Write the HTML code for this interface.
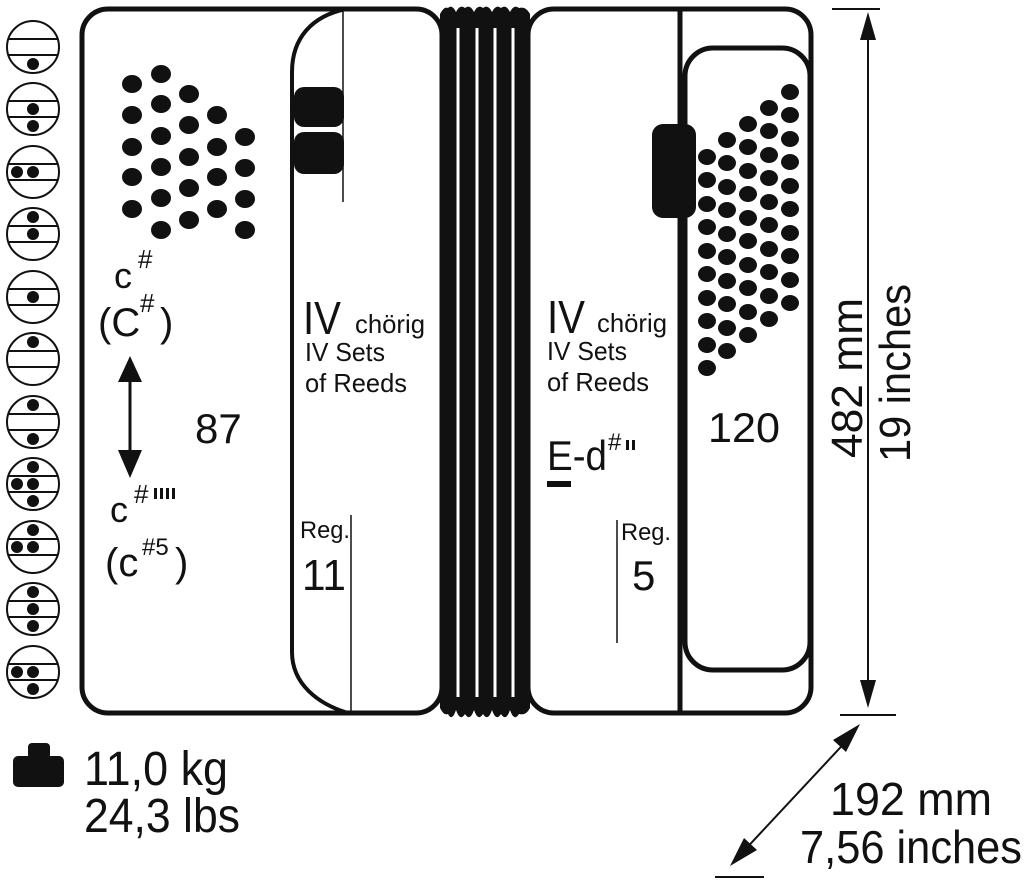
<!DOCTYPE html>
<html><head><meta charset="utf-8"><style>
html,body{margin:0;padding:0;background:#fff}
svg{display:block}
text{font-family:"Liberation Sans Narrow","Liberation Sans",sans-serif;fill:#111}
</style></head><body>
<svg width="1025" height="883" viewBox="0 0 1025 883" xmlns="http://www.w3.org/2000/svg">
<g stroke="#111" stroke-width="2" fill="#fff">
<circle cx="33" cy="47" r="26"/><circle cx="33" cy="109" r="26"/><circle cx="33" cy="172" r="26"/><circle cx="33" cy="234" r="26"/><circle cx="33" cy="297" r="26"/><circle cx="33" cy="359" r="26"/><circle cx="33" cy="422" r="26"/><circle cx="33" cy="484" r="26"/><circle cx="33" cy="547" r="26"/><circle cx="33" cy="609" r="26"/><circle cx="33" cy="672" r="26"/>
</g>
<g stroke="#111" stroke-width="2">
<line x1="8" y1="39" x2="58" y2="39"/><line x1="8" y1="55" x2="58" y2="55"/>
<line x1="8" y1="101" x2="58" y2="101"/><line x1="8" y1="117" x2="58" y2="117"/>
<line x1="8" y1="164" x2="58" y2="164"/><line x1="8" y1="180" x2="58" y2="180"/>
<line x1="8" y1="226" x2="58" y2="226"/><line x1="8" y1="242" x2="58" y2="242"/>
<line x1="8" y1="289" x2="58" y2="289"/><line x1="8" y1="305" x2="58" y2="305"/>
<line x1="8" y1="351" x2="58" y2="351"/><line x1="8" y1="367" x2="58" y2="367"/>
<line x1="8" y1="414" x2="58" y2="414"/><line x1="8" y1="430" x2="58" y2="430"/>
<line x1="8" y1="476" x2="58" y2="476"/><line x1="8" y1="492" x2="58" y2="492"/>
<line x1="8" y1="539" x2="58" y2="539"/><line x1="8" y1="555" x2="58" y2="555"/>
<line x1="8" y1="601" x2="58" y2="601"/><line x1="8" y1="617" x2="58" y2="617"/>
<line x1="8" y1="664" x2="58" y2="664"/><line x1="8" y1="680" x2="58" y2="680"/>
</g>
<g fill="#111">
<circle cx="33" cy="64" r="6"/>
<circle cx="33" cy="109" r="6"/><circle cx="33" cy="126" r="6"/>
<circle cx="17" cy="172" r="6"/><circle cx="33" cy="172" r="6"/>
<circle cx="33" cy="217" r="6"/><circle cx="33" cy="234" r="6"/>
<circle cx="33" cy="297" r="6"/>
<circle cx="33" cy="342" r="6"/>
<circle cx="33" cy="405" r="6"/><circle cx="33" cy="439" r="6"/>
<circle cx="33" cy="467" r="6"/><circle cx="17" cy="484" r="6"/><circle cx="33" cy="484" r="6"/><circle cx="33" cy="501" r="6"/>
<circle cx="33" cy="530" r="6"/><circle cx="17" cy="547" r="6"/><circle cx="33" cy="547" r="6"/>
<circle cx="33" cy="592" r="6"/><circle cx="33" cy="609" r="6"/><circle cx="33" cy="626" r="6"/>
<circle cx="17" cy="672" r="6"/><circle cx="33" cy="672" r="6"/><circle cx="33" cy="689" r="6"/>
</g>

<!-- bellows -->
<path d="M440,14 Q444,6 448,8 Q452,4 456,12 Q460,4 465,8 Q470,4 474,12 Q478,4 483,8 Q488,4 492,12 Q496,4 501,8 Q506,4 510,12 Q514,4 519,8 Q526,6 530,14 L530,708 Q526,716 519,714 Q514,722 510,710 Q506,722 501,714 Q496,722 492,710 Q488,722 483,714 Q478,722 474,710 Q470,722 465,714 Q460,722 456,710 Q452,722 448,714 Q444,716 440,708 Z" fill="#111"/>
<g stroke="#fff" stroke-width="3">
<line x1="458" y1="28" x2="458" y2="697"/><line x1="477" y1="28" x2="477" y2="697"/><line x1="495" y1="28" x2="495" y2="697"/><line x1="513" y1="28" x2="513" y2="697"/>
</g>

<!-- left body -->
<rect x="82" y="9" width="360" height="704" rx="26" fill="#fff" stroke="#111" stroke-width="5"/>
<path d="M346,9 C312,16 292,38 292,72 L292,652 C292,684 318,704 348,713" fill="none" stroke="#111" stroke-width="4"/>
<line x1="343" y1="9" x2="343" y2="202" stroke="#111" stroke-width="1.5"/>
<line x1="351" y1="515" x2="351" y2="713" stroke="#111" stroke-width="1.5"/>
<rect x="294" y="87" width="50" height="40" rx="10" fill="#111"/>
<rect x="294" y="132" width="50" height="42" rx="10" fill="#111"/>

<g fill="#111">
<ellipse cx="132" cy="84" rx="10" ry="9"/><ellipse cx="132" cy="115" rx="10" ry="9"/><ellipse cx="132" cy="147" rx="10" ry="9"/><ellipse cx="132" cy="177" rx="10" ry="9"/><ellipse cx="132" cy="209" rx="10" ry="9"/>
<ellipse cx="161" cy="74" rx="10" ry="9"/><ellipse cx="161" cy="104" rx="10" ry="9"/><ellipse cx="161" cy="136" rx="10" ry="9"/><ellipse cx="161" cy="167" rx="10" ry="9"/><ellipse cx="161" cy="198" rx="10" ry="9"/><ellipse cx="161" cy="230" rx="10" ry="9"/>
<ellipse cx="189" cy="94" rx="10" ry="9"/><ellipse cx="189" cy="125" rx="10" ry="9"/><ellipse cx="189" cy="157" rx="10" ry="9"/><ellipse cx="189" cy="188" rx="10" ry="9"/><ellipse cx="189" cy="220" rx="10" ry="9"/>
<ellipse cx="217" cy="115" rx="10" ry="9"/><ellipse cx="217" cy="147" rx="10" ry="9"/><ellipse cx="217" cy="177" rx="10" ry="9"/><ellipse cx="217" cy="209" rx="10" ry="9"/>
<ellipse cx="245" cy="137" rx="10" ry="9"/><ellipse cx="245" cy="168" rx="10" ry="9"/><ellipse cx="245" cy="199" rx="10" ry="9"/><ellipse cx="245" cy="230" rx="10" ry="9"/>
</g>

<!-- right body -->
<rect x="528" y="9" width="283" height="704" rx="26" fill="#fff" stroke="#111" stroke-width="5"/>
<line x1="680" y1="9" x2="680" y2="713" stroke="#111" stroke-width="5"/>
<rect x="685" y="48" width="125" height="622" rx="28" fill="#fff" stroke="#111" stroke-width="5"/>
<rect x="652" y="124" width="44" height="94" rx="11" fill="#111"/>
<g fill="#111">
<ellipse cx="707" cy="157" rx="9" ry="8"/><ellipse cx="707" cy="180" rx="9" ry="8"/><ellipse cx="707" cy="204" rx="9" ry="8"/><ellipse cx="707" cy="227" rx="9" ry="8"/><ellipse cx="707" cy="251" rx="9" ry="8"/><ellipse cx="707" cy="274" rx="9" ry="8"/><ellipse cx="707" cy="298" rx="9" ry="8"/><ellipse cx="707" cy="321" rx="9" ry="8"/><ellipse cx="707" cy="345" rx="9" ry="8"/><ellipse cx="707" cy="368" rx="9" ry="8"/>
<ellipse cx="727" cy="140" rx="9" ry="8"/><ellipse cx="727" cy="163" rx="9" ry="8"/><ellipse cx="727" cy="187" rx="9" ry="8"/><ellipse cx="727" cy="210" rx="9" ry="8"/><ellipse cx="727" cy="234" rx="9" ry="8"/><ellipse cx="727" cy="257" rx="9" ry="8"/><ellipse cx="727" cy="281" rx="9" ry="8"/><ellipse cx="727" cy="304" rx="9" ry="8"/><ellipse cx="727" cy="328" rx="9" ry="8"/><ellipse cx="727" cy="351" rx="9" ry="8"/>
<ellipse cx="748" cy="124" rx="9" ry="8"/><ellipse cx="748" cy="147" rx="9" ry="8"/><ellipse cx="748" cy="171" rx="9" ry="8"/><ellipse cx="748" cy="194" rx="9" ry="8"/><ellipse cx="748" cy="218" rx="9" ry="8"/><ellipse cx="748" cy="241" rx="9" ry="8"/><ellipse cx="748" cy="265" rx="9" ry="8"/><ellipse cx="748" cy="288" rx="9" ry="8"/><ellipse cx="748" cy="312" rx="9" ry="8"/><ellipse cx="748" cy="335" rx="9" ry="8"/>
<ellipse cx="769" cy="108" rx="9" ry="8"/><ellipse cx="769" cy="131" rx="9" ry="8"/><ellipse cx="769" cy="155" rx="9" ry="8"/><ellipse cx="769" cy="178" rx="9" ry="8"/><ellipse cx="769" cy="202" rx="9" ry="8"/><ellipse cx="769" cy="225" rx="9" ry="8"/><ellipse cx="769" cy="249" rx="9" ry="8"/><ellipse cx="769" cy="272" rx="9" ry="8"/><ellipse cx="769" cy="296" rx="9" ry="8"/><ellipse cx="769" cy="319" rx="9" ry="8"/>
<ellipse cx="790" cy="92" rx="9" ry="8"/><ellipse cx="790" cy="115" rx="9" ry="8"/><ellipse cx="790" cy="139" rx="9" ry="8"/><ellipse cx="790" cy="162" rx="9" ry="8"/><ellipse cx="790" cy="186" rx="9" ry="8"/><ellipse cx="790" cy="209" rx="9" ry="8"/><ellipse cx="790" cy="233" rx="9" ry="8"/><ellipse cx="790" cy="256" rx="9" ry="8"/><ellipse cx="790" cy="280" rx="9" ry="8"/><ellipse cx="790" cy="303" rx="9" ry="8"/>
</g>

<!-- left texts -->
<text x="114" y="288" font-size="36">c</text>
<text x="138" y="268" font-size="26">#</text>
<text x="98" y="336" font-size="40">(C</text>
<text x="140" y="312" font-size="26">#</text>
<text x="160" y="336" font-size="40">)</text>
<line x1="130" y1="372" x2="130" y2="458" stroke="#111" stroke-width="3"/>
<polygon points="118,382 142,382 130,356" fill="#111"/>
<polygon points="118,450 142,450 130,478" fill="#111"/>
<text x="195" y="443" font-size="42">87</text>
<text x="110" y="522" font-size="36">c</text>
<text x="134" y="503" font-size="26">#</text>
<rect x="154" y="488" width="3" height="11" fill="#111"/><rect x="160" y="488" width="3" height="11" fill="#111"/><rect x="166" y="488" width="3" height="11" fill="#111"/><rect x="172" y="488" width="3" height="11" fill="#111"/>
<text x="105" y="576" font-size="40">(c</text>
<text x="142" y="555" font-size="24">#5</text>
<text x="175" y="576" font-size="40">)</text>

<text x="303" y="334" font-size="46" textLength="38" lengthAdjust="spacingAndGlyphs">IV</text>
<text x="355" y="333" font-size="26" textLength="70" lengthAdjust="spacingAndGlyphs">chörig</text>
<text x="305" y="361" font-size="26" textLength="80" lengthAdjust="spacingAndGlyphs">IV Sets</text>
<text x="305" y="392" font-size="26" textLength="102" lengthAdjust="spacingAndGlyphs">of Reeds</text>
<text x="300" y="538" font-size="24" textLength="50" lengthAdjust="spacingAndGlyphs">Reg.</text>
<text x="302" y="590" font-size="44" textLength="44" lengthAdjust="spacingAndGlyphs">11</text>

<!-- right texts -->
<text x="547" y="333" font-size="46" textLength="38" lengthAdjust="spacingAndGlyphs">IV</text>
<text x="597" y="332" font-size="26" textLength="70" lengthAdjust="spacingAndGlyphs">chörig</text>
<text x="547" y="360" font-size="26" textLength="80" lengthAdjust="spacingAndGlyphs">IV Sets</text>
<text x="547" y="391" font-size="26" textLength="102" lengthAdjust="spacingAndGlyphs">of Reeds</text>
<text x="547" y="470" font-size="42" textLength="60" lengthAdjust="spacingAndGlyphs">E-d</text>
<text x="608" y="450" font-size="24">#</text>
<rect x="626" y="440" width="3" height="10" fill="#111"/><rect x="632" y="440" width="3" height="10" fill="#111"/>
<rect x="547" y="481" width="24" height="6" fill="#111"/>
<line x1="617" y1="520" x2="617" y2="643" stroke="#111" stroke-width="1.5"/>
<text x="621" y="540" font-size="24" textLength="50" lengthAdjust="spacingAndGlyphs">Reg.</text>
<text x="632" y="590" font-size="42">5</text>
<text x="708" y="442" font-size="42" textLength="72" lengthAdjust="spacingAndGlyphs">120</text>

<!-- dimensions -->
<line x1="832" y1="9" x2="880" y2="9" stroke="#111" stroke-width="2"/>
<line x1="840" y1="715" x2="896" y2="715" stroke="#111" stroke-width="2"/>
<line x1="868" y1="30" x2="868" y2="690" stroke="#111" stroke-width="2"/>
<polygon points="860,40 876,40 868,12" fill="#111"/>
<polygon points="860,680 876,680 868,708" fill="#111"/>
<text transform="translate(862,458) rotate(-90)" font-size="44" textLength="160" lengthAdjust="spacingAndGlyphs">482 mm</text>
<text transform="translate(910,462) rotate(-90)" font-size="44" textLength="178" lengthAdjust="spacingAndGlyphs">19 inches</text>

<line x1="852" y1="735" x2="740" y2="855" stroke="#111" stroke-width="2"/>
<polygon points="860,724 846,752 833,740" fill="#111"/>
<polygon points="730,866 744,838 757,850" fill="#111"/>
<line x1="715" y1="877" x2="764" y2="877" stroke="#111" stroke-width="2"/>
<text x="830" y="815" font-size="46" textLength="162" lengthAdjust="spacingAndGlyphs">192 mm</text>
<text x="800" y="863" font-size="46" textLength="222" lengthAdjust="spacingAndGlyphs">7,56 inches</text>

<!-- weight -->
<rect x="28" y="743" width="22" height="16" rx="4" fill="#111"/>
<rect x="13" y="756" width="51" height="31" rx="5" fill="#111"/>
<text x="84" y="785" font-size="48" textLength="144" lengthAdjust="spacingAndGlyphs">11,0 kg</text>
<text x="84" y="832" font-size="48" textLength="156" lengthAdjust="spacingAndGlyphs">24,3 lbs</text>
</svg>
</body></html>
